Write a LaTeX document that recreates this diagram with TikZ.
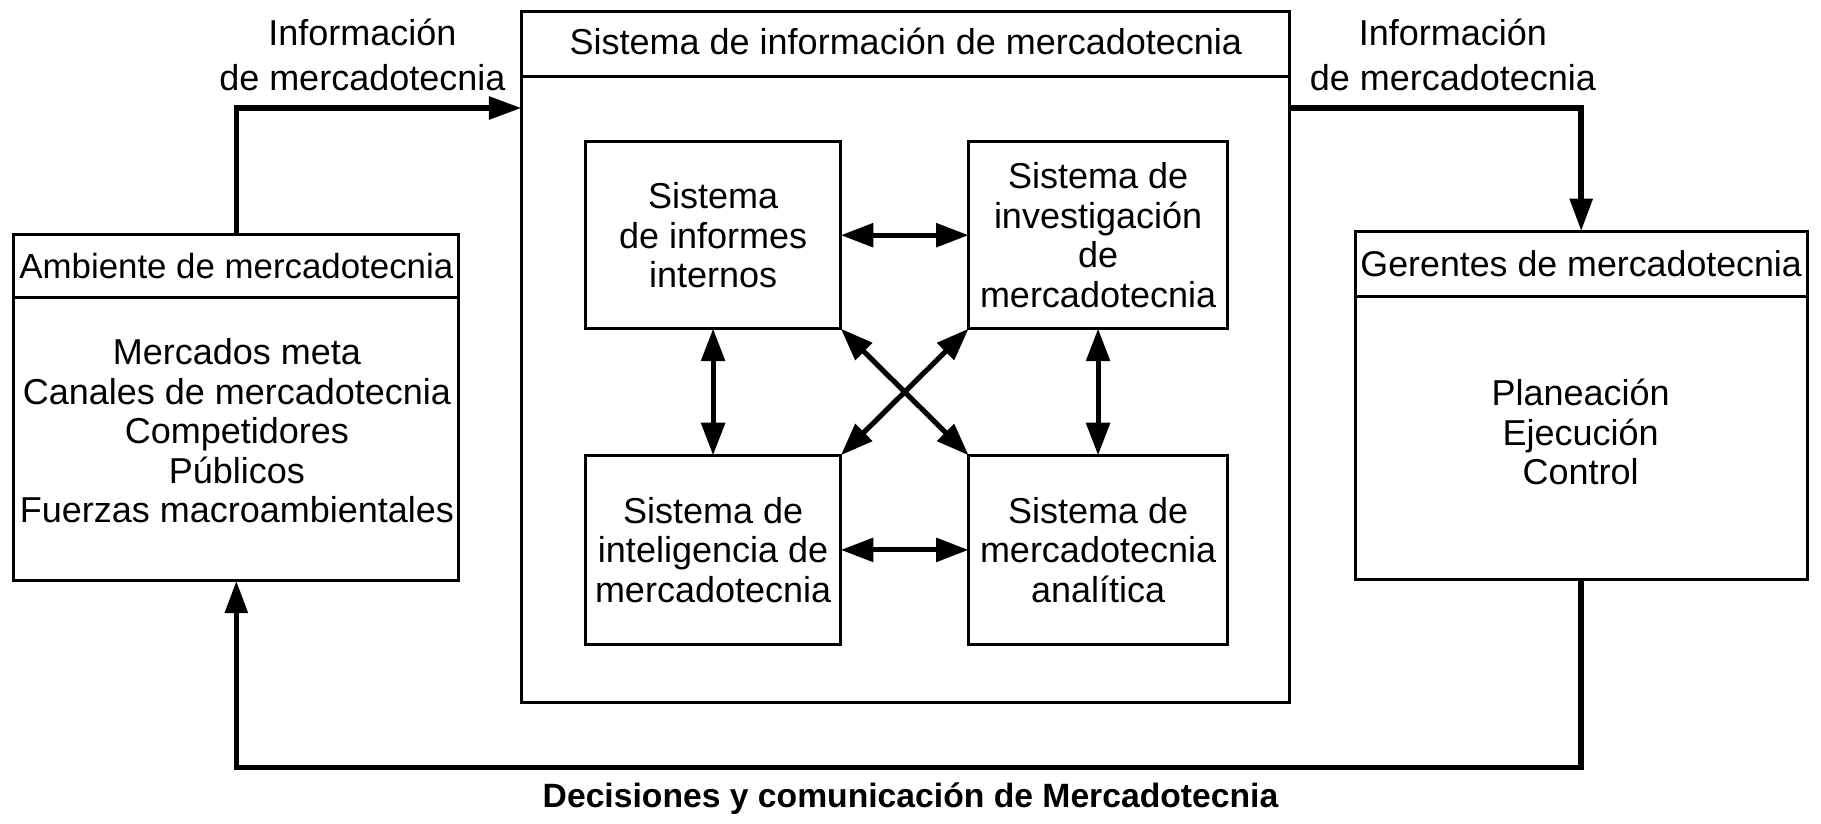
\documentclass[tikz,border=0pt]{standalone}
\usepackage{fontspec}
\setmainfont{Liberation Sans}
\usetikzlibrary{arrows.meta,calc}
\begin{document}
\begin{tikzpicture}[x=0.5pt,y=-0.5pt,
  box/.style={draw, line width=1.3pt, inner sep=0pt, outer sep=0pt, anchor=north west},
  sepline/.style={line width=1.3pt},
  txt/.style={align=center, font=\fontsize{15.5}{17}\selectfont, inner sep=0pt},
  lbl/.style={align=center, font=\fontsize{15.5}{19.5}\selectfont, inner sep=0pt},
  hdr/.style={font=\fontsize{15}{17}\selectfont, inner sep=0pt},
  flow/.style={line width=2.4pt, -{Triangle[length=14pt,width=9.5pt]}},
  both/.style={line width=2.2pt, {Triangle[length=14pt,width=10pt]}-{Triangle[length=14pt,width=10pt]}},
]
\useasboundingbox (0,0) rectangle (1568,709);

% left box
\node[box, minimum width=191.5pt, minimum height=149pt] (amb) at (12,202) {};
\draw[sepline] (amb.west |- 0,256) -- (amb.east |- 0,256);
\node[hdr] (ambt) at (amb.north |- 0,229) {Ambiente de mercadotecnia};
\node[txt] (ambb) at (204,371) {Mercados meta\\Canales de mercadotecnia\\Competidores\\Públicos\\Fuerzas macroambientales};

% centre box
\node[box, minimum width=330.5pt, minimum height=297.5pt] (cb) at (449,10) {};
\draw[sepline] (cb.west |- 0,66) -- (cb.east |- 0,66);
\node[txt] (cbt) at (780,36) {Sistema de información de mercadotecnia};

% inner boxes
\node[box, minimum width=110pt, minimum height=80.5pt] (tl) at (504,122) {};
\node[box, minimum width=111.5pt, minimum height=80.5pt] (tr) at (834,122) {};
\node[box, minimum width=110pt, minimum height=81.5pt] (bl) at (504,392) {};
\node[box, minimum width=111.5pt, minimum height=81.5pt] (br) at (834,392) {};
\node[txt] (tlt) at (tl) {Sistema\\de informes\\internos};
\node[txt] (trt) at (tr) {Sistema de\\investigación\\de\\mercadotecnia};
\node[txt] (blt) at (bl) {Sistema de\\inteligencia de\\mercadotecnia};
\node[txt] (brt) at (br) {Sistema de\\mercadotecnia\\analítica};

% right box
\node[box, minimum width=194.5pt, minimum height=150pt] (ger) at (1167,199) {};
\draw[sepline] (ger.west |- 0,255) -- (ger.east |- 0,255);
\node[hdr, font=\fontsize{15.4}{17}\selectfont] (gert) at (ger.north |- 0,227) {Gerentes de mercadotecnia};
\node[txt] (gerb) at (1361,372) {Planeación\\Ejecución\\Control};

% labels
\node[lbl] (lab1) at (312,47) {Información\\de mercadotecnia};
\node[lbl] (lab2) at (1251,47) {Información\\de mercadotecnia};
\node[font=\bfseries\fontsize{14.5}{17}\selectfont, inner sep=0pt] (lab3) at (784,688) {Decisiones y comunicación de Mercadotecnia};

% outer arrows
\draw[flow] (amb.north) |- ($(cb.north west)+(0,83)$);
\draw[flow] ($(cb.north east)+(0,83)$) -| (ger.north);
\coordinate (bend) at (204,661);
\draw[flow] (ger.south) |- (amb.south |- bend) -- (amb.south);

% inner arrows
\draw[both] (tl.east) -- (tr.west);
\draw[both] (bl.east) -- (br.west);
\draw[both] (tl.south) -- (bl.north);
\draw[both] (tr.south) -- (br.north);
\draw[both] (tl.south east) -- (br.north west);
\draw[both] (tr.south west) -- (bl.north east);
\end{tikzpicture}
\end{document}
